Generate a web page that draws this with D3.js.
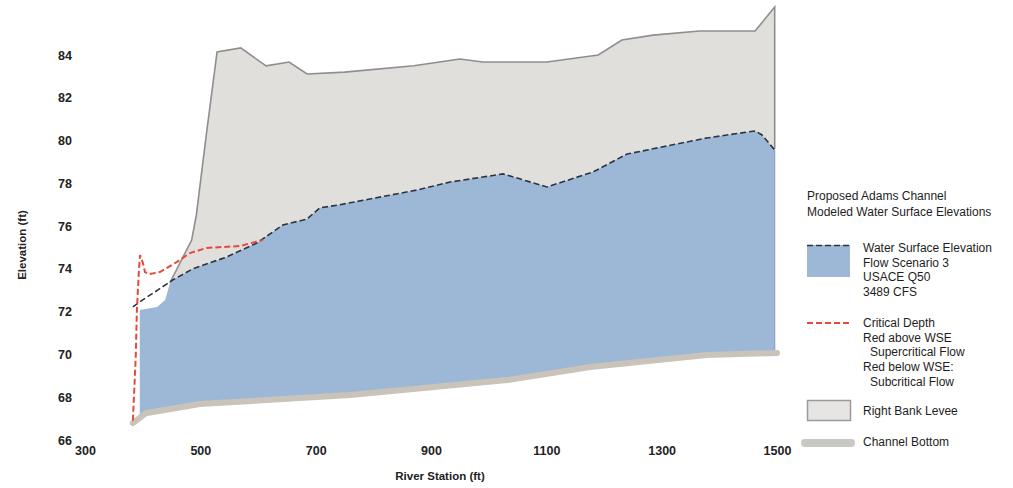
<!DOCTYPE html>
<html>
<head>
<meta charset="utf-8">
<script src="https://cdn.jsdelivr.net/npm/d3@7"></script>
<style>
  body { margin: 0; background: #fff; }
  text { font-family: "Liberation Sans", Arial, sans-serif; }
</style>
</head>
<body>
<script>
var w = 1013;
var h = 488;

// River station (ft), elevation (ft)
var leveeTop = [[529,84.14],[570,84.33],[614,83.49],[654,83.67],[685,83.11],[750,83.2],[870,83.5],
                [950,83.81],[990,83.67],[1101,83.67],[1190,84.0],[1231,84.7],[1285,84.93],
                [1366,85.12],[1462,85.12],[1496,86.24]];
var leveeLeft = [[447,73.34],[485,75.35],[493,76.5],[510,80.2],[529,84.14]];
var wse = [[383,72.22],[400,72.55],[426,73.01],[452,73.48],[487,74.0],[546,74.56],[598,75.21],
           [643,76.05],[685,76.33],[707,76.85],[742,77.0],[876,77.69],[933,78.06],[1025,78.44],
           [1101,77.83],[1181,78.53],[1240,79.37],[1378,80.12],[1462,80.45],[1474,80.26],[1496,79.56]];
var waterLeft = [[395,72.08],[425,72.22],[439,72.55],[447,73.3]];
var critical = [[383,66.9],[388,69.88],[390,72.08],[393.5,73.95],[395.5,74.65],[400.5,74.27],
                [404,73.85],[412,73.76],[430,73.85],[459,74.32],[482,74.74],[511,74.98],
                [569,75.07],[608,75.35]];
var bottom = [[383,66.79],[405,67.25],[499,67.68],[760,68.1],[1032,68.8],[1176,69.41],
              [1378,69.97],[1500,70.07]];
var xTicks = [300,500,700,900,1100,1300,1500];
var yTicks = [66,68,70,72,74,76,78,80,82,84];

var svg = d3.select("body").append("svg")
            .attr("width", w)
            .attr("height", h);

var x = d3.scaleLinear().domain([300,1500]).range([85,777]);
var y = d3.scaleLinear().domain([66,84]).range([440,55]);

var line = d3.line().x(d => x(d[0])).y(d => y(d[1]));

// Right bank levee
var leveePoly = leveeLeft.concat(leveeTop.slice(1), [[1496,72],[447,72]]);
svg.append("path")
   .attr("d", line(leveePoly) + "Z")
   .attr("fill", "#e0dfdc");
svg.append("path")
   .attr("d", line(leveeLeft.concat(leveeTop.slice(1), [[1496,79.6]])))
   .attr("fill", "none")
   .attr("stroke", "#8e8e8e")
   .attr("stroke-width", 1.6);

// Water area
var waterTop = waterLeft.concat(wse.filter(d => d[0] >= 452));
var waterPoly = waterTop.concat([[1496,70.07]], bottom.slice().reverse().filter(d => d[0] >= 395 && d[0] < 1496), [[395,67.1]]);
svg.append("path")
   .attr("d", line(waterPoly) + "Z")
   .attr("fill", "#9db8d6");
svg.append("path")
   .attr("d", line([[1496,79.56],[1496,70.07]]))
   .attr("stroke", "#8aa3bf")
   .attr("stroke-width", 1.2);

// Channel bottom
svg.append("path")
   .attr("d", line(bottom))
   .attr("fill", "none")
   .attr("stroke", "#c9c3b9")
   .attr("stroke-width", 6)
   .attr("stroke-linecap", "round")
   .attr("stroke-linejoin", "round");

// Water surface elevation
svg.append("path")
   .attr("d", line(wse))
   .attr("fill", "none")
   .attr("stroke", "#2c3440")
   .attr("stroke-width", 1.6)
   .attr("stroke-dasharray", "6,3");

// Critical depth
svg.append("path")
   .attr("d", line(critical))
   .attr("fill", "none")
   .attr("stroke", "#e8473b")
   .attr("stroke-width", 2)
   .attr("stroke-dasharray", "6,3");

// Axes
svg.append("g")
   .attr("transform", "translate(0,446)")
   .call(d3.axisBottom(x).tickValues(xTicks).tickFormat(d3.format("d")).tickSize(0).tickPadding(0));
svg.append("g")
   .attr("transform", "translate(72,0)")
   .call(d3.axisLeft(y).tickValues(yTicks).tickSize(0).tickPadding(0));
svg.selectAll(".domain").remove();
svg.selectAll(".tick text")
   .attr("font-family", "Liberation Sans, Arial, sans-serif")
   .attr("font-size", 12.5)
   .attr("font-weight", "bold")
   .attr("fill", "#222");

svg.append("text")
   .attr("x", 440).attr("y", 480)
   .attr("text-anchor", "middle")
   .attr("font-size", 11.5).attr("font-weight", "bold").attr("fill", "#222")
   .text("River Station (ft)");
svg.append("text")
   .attr("transform", "translate(26,245) rotate(-90)")
   .attr("text-anchor", "middle")
   .attr("font-size", 11.5).attr("font-weight", "bold").attr("fill", "#222")
   .text("Elevation (ft)");

// Legend
var lg = svg.append("g");
var fs = 12;
function txt(tx, ty, s) {
  lg.append("text").attr("x", tx).attr("y", ty).attr("dy", "0.35em")
    .attr("font-size", fs).attr("fill", "#1e1e1e").text(s);
}
txt(807, 196, "Proposed Adams Channel");
txt(807, 212, "Modeled Water Surface Elevations");

lg.append("rect").attr("x", 807).attr("y", 245).attr("width", 43).attr("height", 32)
  .attr("fill", "#9db8d6");
lg.append("line").attr("x1", 807).attr("x2", 850).attr("y1", 245.5).attr("y2", 245.5)
  .attr("stroke", "#2c3440").attr("stroke-width", 1.6).attr("stroke-dasharray", "6,3");
txt(863, 248, "Water Surface Elevation");
txt(863, 263, "Flow Scenario 3");
txt(863, 277, "USACE Q50");
txt(863, 292, "3489 CFS");

lg.append("line").attr("x1", 807).attr("x2", 850).attr("y1", 323).attr("y2", 323)
  .attr("stroke", "#e8473b").attr("stroke-width", 2).attr("stroke-dasharray", "6,3");
txt(863, 323, "Critical Depth");
txt(863, 338, "Red above WSE");
txt(870, 352, "Supercritical Flow");
txt(863, 367, "Red below WSE:");
txt(870, 382, "Subcritical Flow");

lg.append("rect").attr("x", 807.5).attr("y", 400.5).attr("width", 43).attr("height", 20)
  .attr("fill", "#e6e5e3").attr("stroke", "#9a9a9a").attr("stroke-width", 1.5);
txt(863, 411, "Right Bank Levee");

lg.append("line").attr("x1", 805).attr("x2", 851).attr("y1", 443).attr("y2", 443)
  .attr("stroke", "#c9c7c2").attr("stroke-width", 8).attr("stroke-linecap", "round");
txt(863, 442, "Channel Bottom");
</script>
</body>
</html>
